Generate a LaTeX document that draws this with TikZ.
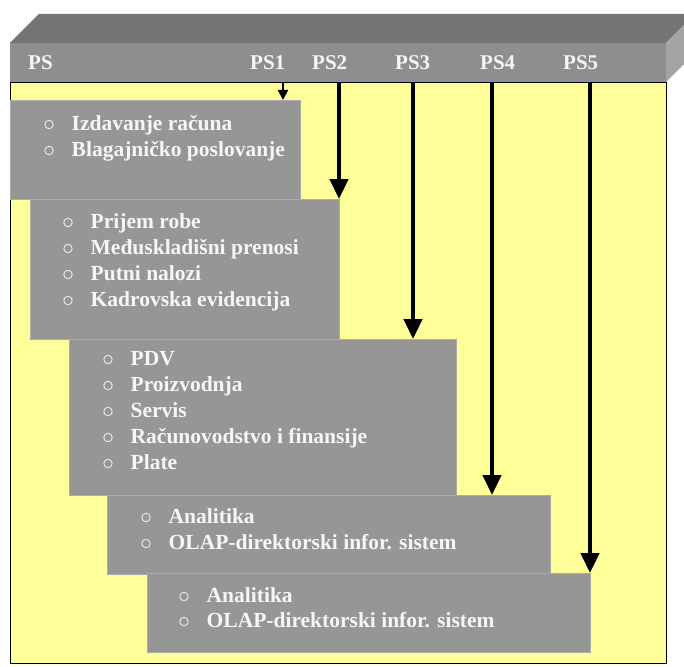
\documentclass[tikz,border=0pt]{standalone}
\usepackage{fontspec}
\setmainfont{Liberation Serif}
\usetikzlibrary{arrows.meta}
\definecolor{ylw}{HTML}{FFFF99}
\definecolor{topc}{HTML}{747474}
\definecolor{frontc}{HTML}{8E8E8E}
\definecolor{sidec}{HTML}{A4A4A4}
\definecolor{boxc}{HTML}{969696}
\definecolor{txtc}{HTML}{F6F6F6}
\tikzset{
  stagebox/.style={fill=boxc, draw=boxc!80!white, line width=0.6pt, inner sep=0pt, anchor=north west},
  hdr/.style={font=\fontsize{21}{24}\selectfont\bfseries, text=txtc, inner sep=0pt, anchor=base west},
  itemtxt/.style={font=\fontsize{21.5}{24}\selectfont\bfseries, text=txtc, inner sep=0pt, anchor=base west},
  bul/.style={circle, draw=txtc!90!gray, line width=0.9pt, minimum size=8.5pt, inner sep=0pt},
  bigarr/.style={draw=black, line width=4.5pt, -{Triangle[length=20pt,width=18pt]}},
  smallarr/.style={draw=black, line width=1.8pt, -{Triangle[length=10pt,width=10pt]}}
}
\newcommand{\listitem}[4]{%
  \node[bul] (#1c) at (#2,#3-5.5) {};
  \node[itemtxt] (#1) at (#2+22.5,#3) {#4};}
\begin{document}
\begin{tikzpicture}[x=1pt,y=-1pt]
\useasboundingbox (0,0) rectangle (684,666);
\clip (0,0) rectangle (684,666);
\fill[white] (0,0) rectangle (684,666);
% 3D header bar
\fill[topc] (10,43) -- (39,14) -- (695,14) -- (666,43) -- cycle;
\fill[sidec] (666,43) -- (695,14) -- (695,53) -- (666,82) -- cycle;
\fill[frontc] (10,43) rectangle (666,82);
% yellow area
\fill[ylw] (10,82) rectangle (666,663);
\draw[black, line width=0.8pt] (10,82) rectangle (666,663);
% header labels
\node[hdr] (ps)  at (28,70)  {PS};
\node[hdr] (ps1) at (250,70) {PS1};
\node[hdr] (ps2) at (312,70) {PS2};
\node[hdr] (ps3) at (395,70) {PS3};
\node[hdr] (ps4) at (480,70) {PS4};
\node[hdr] (ps5) at (563,70) {PS5};
% arrow start points on the header bottom
\coordinate (a1) at (283,82);
\coordinate (a2) at (339,82);
\coordinate (a3) at (413,82);
\coordinate (a4) at (492,82);
\coordinate (a5) at (590,82);
% stage boxes
\node[stagebox, minimum width=290pt, minimum height=99pt] (b1) at (10,100) {};
\node[stagebox, minimum width=309pt, minimum height=140pt] (b2) at (30,199) {};
\node[stagebox, minimum width=387pt, minimum height=156pt] (b3) at (69,339) {};
\node[stagebox, minimum width=443pt, minimum height=79pt] (b4) at (107,495) {};
\node[stagebox, minimum width=443pt, minimum height=79pt] (b5) at (147,573) {};
% arrows
\draw[smallarr] (a1) -- (a1 |- b1.north);
\draw[bigarr] (a2) -- (a2 |- b2.north);
\draw[bigarr] (a3) -- (a3 |- b3.north);
\draw[bigarr] (a4) -- (a4 |- b4.north);
\draw[bigarr] (a5) -- (a5 |- b5.north);
% list items
\listitem{i11}{49}{130}{Izdavanje računa}
\listitem{i12}{49}{156}{Blagajničko poslovanje}
\listitem{i21}{68}{228}{Prijem robe}
\listitem{i22}{68}{254}{Međuskladišni prenosi}
\listitem{i23}{68}{280}{Putni nalozi}
\listitem{i24}{68}{306}{Kadrovska evidencija}
\listitem{i31}{108}{365}{PDV}
\listitem{i32}{108}{391}{Proizvodnja}
\listitem{i33}{108}{417}{Servis}
\listitem{i34}{108}{443}{Računovodstvo i finansije}
\listitem{i35}{108}{469}{Plate}
\listitem{i41}{146}{523}{Analitika}
\listitem{i42}{146}{549}{OLAP-direktorski infor. sistem}
\listitem{i51}{184}{602}{Analitika}
\listitem{i52}{184}{627}{OLAP-direktorski infor. sistem}
\end{tikzpicture}
\end{document}
